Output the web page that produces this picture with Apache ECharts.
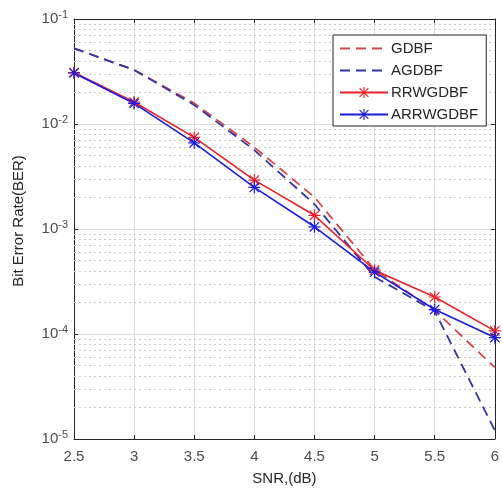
<!DOCTYPE html>
<html>
<head>
<meta charset="utf-8">
<script src="https://cdn.jsdelivr.net/npm/echarts@6/dist/echarts.min.js"></script>
<style>
html,body{margin:0;padding:0;background:#fff;}
#chart{width:502px;height:494px;}
</style>
</head>
<body>
<div id="chart"></div>
<script>
const snr = [2.5, 3, 3.5, 4, 4.5, 5, 5.5, 6];
const gdbf = [0.0526, 0.0327, 0.0158, 0.0060, 0.00201, 0.00041, 0.000168, 0.000048];
const agdbf = [0.0526, 0.0327, 0.0152, 0.00564, 0.00172, 0.00035, 0.000165, 0.0000121];
const rrwgdbf = [0.0309, 0.0162, 0.00745, 0.00292, 0.00135, 0.000405, 0.000225, 0.000107];
const arrwgdbf = [0.0306, 0.0157, 0.00662, 0.00249, 0.00105, 0.000388, 0.000171, 0.0000925];
const seriesNames = ['GDBF', 'AGDBF', 'RRWGDBF', 'ARRWGDBF'];
const minorGridValues = [];
[-5, -4, -3, -2].forEach(function (e) {
  [2, 3, 4, 5, 6, 7, 8, 9].forEach(function (m) { minorGridValues.push(m * Math.pow(10, e)); });
});

const star = 'path://M9 0h2v20h-2z M0 9h20v2h-20z M2.9 1.5L18.5 17.1L17.1 18.5L1.5 2.9z M17.1 1.5L18.5 2.9L2.9 18.5L1.5 17.1z';
const FONT = 'Liberation Sans, Arial, sans-serif';
const RED = '#e8202a', BLUE = '#1a1ae0', RED_D = '#d8454a', BLUE_D = '#3333a8';

function pairs(ys) { return snr.map(function (x, i) { return [x, ys[i]]; }); }

const chart = echarts.init(document.getElementById('chart'), null, {renderer: 'canvas'});
chart.setOption({
  backgroundColor: '#fff',
  animation: false,
  grid: {left: 74, top: 19, right: 1, bottom: 55},
  legend: {
    orient: 'vertical', left: 333, top: 35, z: 50,
    backgroundColor: '#fff', borderColor: '#222', borderWidth: 1,
    padding: [6, 8, 4, 6], itemGap: 7, itemWidth: 48, itemHeight: 14,
    textStyle: {fontFamily: FONT, fontSize: 15, color: '#262626', padding: [0, 0, 0, -2]},
    data: [
      {name: seriesNames[0], itemStyle: {opacity: 0}},
      {name: seriesNames[1], itemStyle: {opacity: 0}},
      {name: seriesNames[2]},
      {name: seriesNames[3]}
    ]
  },
  xAxis: [{
    type: 'value', min: 2.5, max: 6, interval: 0.5,
    name: 'SNR,(dB)', nameLocation: 'middle', nameGap: 32,
    nameTextStyle: {fontFamily: FONT, fontSize: 15, color: '#262626'},
    axisLine: {onZero: false, lineStyle: {color: '#262626', width: 1}},
    axisTick: {inside: true, length: 4, lineStyle: {color: '#262626'}},
    axisLabel: {fontFamily: FONT, fontSize: 15, color: '#4d4d4d', margin: 10},
    splitLine: {show: true, lineStyle: {color: '#dcdcdc', width: 1}}
  }, {
    type: 'value', min: 2.5, max: 6, interval: 0.5, position: 'top',
    axisLine: {onZero: false, lineStyle: {color: '#262626', width: 1}},
    axisTick: {inside: true, length: 4, lineStyle: {color: '#262626'}},
    axisLabel: {show: false}, splitLine: {show: false}
  }],
  yAxis: [{
    type: 'log', logBase: 10, min: 1e-5, max: 1e-1, interval: 1,
    name: 'Bit Error Rate(BER)', nameLocation: 'middle', nameGap: 48,
    nameTextStyle: {fontFamily: FONT, fontSize: 15, color: '#262626', padding: [0, 0, 0, 16]},
    axisLine: {lineStyle: {color: '#262626', width: 1}},
    axisTick: {inside: true, length: 4, lineStyle: {color: '#262626'}},
    axisLabel: {
      margin: 6, color: '#4d4d4d',
      formatter: function (v) { return '{b|10}{s|' + Math.round(Math.log10(v)) + '}'; },
      rich: {
        b: {fontFamily: FONT, fontSize: 15, color: '#4d4d4d'},
        s: {fontFamily: FONT, fontSize: 11, color: '#4d4d4d', padding: [0, 0, 9, 0]}
      }
    },
    splitLine: {show: true, lineStyle: {color: '#dcdcdc', width: 1}}
  }, {
    type: 'log', logBase: 10, min: 1e-5, max: 1e-1, interval: 1, position: 'right',
    axisLine: {show: true, lineStyle: {color: '#262626', width: 1}},
    axisTick: {show: true, inside: true, length: 4, lineStyle: {color: '#262626'}},
    axisLabel: {show: false}, splitLine: {show: false}
  }],
  series: [{
    name: 'GDBF', type: 'line', data: pairs(gdbf), symbol: 'none', z: 3,
    itemStyle: {color: RED_D}, lineStyle: {color: RED_D, width: 1.8, type: [10, 6]},
    markLine: {
      silent: true, symbol: 'none', label: {show: false}, z: 1,
      lineStyle: {color: '#cccccc', type: [2, 3], width: 1},
      data: minorGridValues.map(function (v) { return [{coord: [2.5, v]}, {coord: [6, v]}]; })
    }
  }, {
    name: 'AGDBF', type: 'line', data: pairs(agdbf), symbol: 'none', z: 3,
    itemStyle: {color: BLUE_D}, lineStyle: {color: BLUE_D, width: 1.8, type: [10, 6]}
  }, {
    name: 'RRWGDBF', type: 'line', data: pairs(rrwgdbf), symbol: star, symbolSize: 12, z: 4,
    itemStyle: {color: RED}, lineStyle: {color: RED, width: 1.6}
  }, {
    name: 'ARRWGDBF', type: 'line', data: pairs(arrwgdbf), symbol: star, symbolSize: 12, z: 4,
    itemStyle: {color: BLUE}, lineStyle: {color: BLUE, width: 1.6}
  }]
});
</script>
</body>
</html>
